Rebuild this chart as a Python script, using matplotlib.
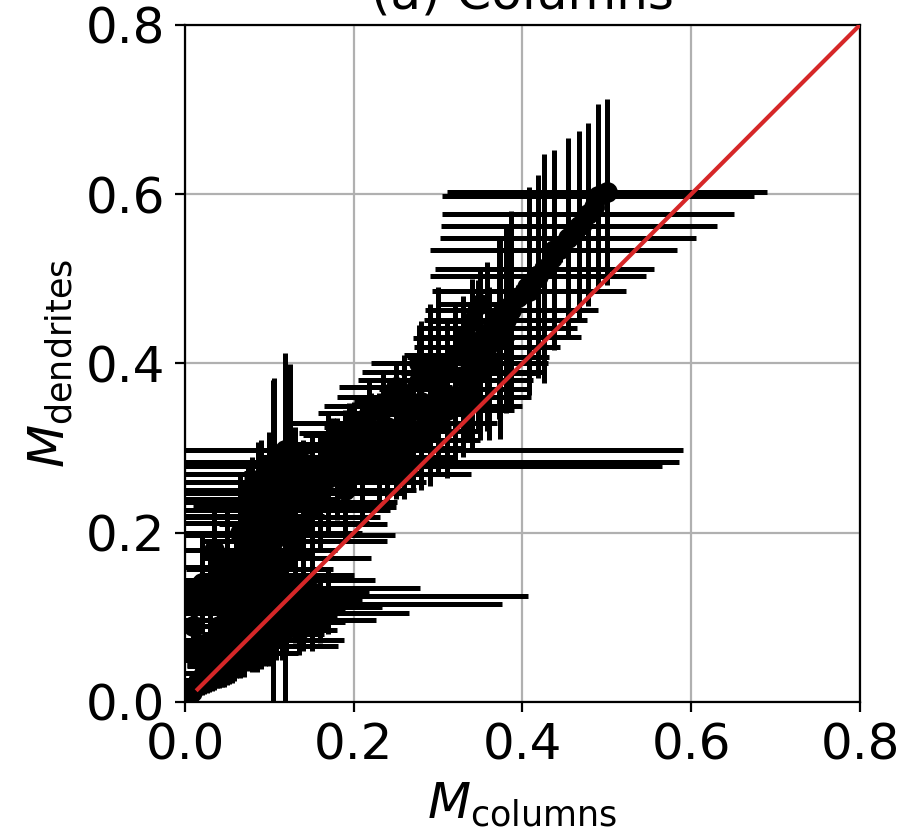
import numpy as np
import matplotlib.pyplot as plt

# M_columns, M_dendrites and their errors
m_col = [0.004, 0.010, 0.016, 0.022, 0.028, 0.034, 0.040, 0.046, 0.052, 0.058,
         0.060, 0.065, 0.070, 0.075, 0.080, 0.085, 0.070, 0.075, 0.080, 0.088,
         0.085, 0.104, 0.119, 0.090, 0.095, 0.100, 0.105, 0.110, 0.087, 0.120,
         0.125, 0.100, 0.125, 0.105, 0.118, 0.131,
         0.175, 0.195, 0.200, 0.218, 0.235, 0.250, 0.260, 0.277, 0.280, 0.290, 0.300,
         0.333, 0.338, 0.347, 0.358, 0.373, 0.372, 0.380, 0.387, 0.408, 0.418,
         0.426, 0.437, 0.454, 0.467, 0.478, 0.490, 0.500]
m_den = [0.006, 0.016, 0.025, 0.034, 0.044, 0.054, 0.062, 0.058, 0.066, 0.073,
         0.090, 0.097, 0.105, 0.112, 0.116, 0.125, 0.131, 0.135, 0.144, 0.157,
         0.174, 0.190, 0.200, 0.197, 0.212, 0.219, 0.227, 0.236, 0.247, 0.251,
         0.260, 0.269, 0.279, 0.283, 0.298, 0.290,
         0.305, 0.318, 0.330, 0.341, 0.350, 0.372, 0.360, 0.400, 0.380, 0.390, 0.400,
         0.381, 0.389, 0.408, 0.420, 0.431, 0.442, 0.451, 0.463, 0.486, 0.503,
         0.512, 0.534, 0.548, 0.562, 0.576, 0.598, 0.603]
err_col = [0.006, 0.012, 0.018, 0.030, 0.025, 0.045, 0.040, 0.088, 0.129, 0.131,
           0.080, 0.162, 0.195, 0.159, 0.296, 0.321, 0.148, 0.203, 0.145, 0.087,
           0.065, 0.010, 0.012, 0.159, 0.123, 0.131, 0.138, 0.141, 0.175, 0.154,
           0.161, 0.239, 0.440, 0.480, 0.472, 0.030,
           0.050, 0.060, 0.073, 0.060, 0.070, 0.067, 0.080, 0.020, 0.075, 0.080, 0.080,
           0.080, 0.082, 0.084, 0.086, 0.096, 0.093, 0.097, 0.102, 0.115, 0.128,
           0.130, 0.146, 0.152, 0.164, 0.173, 0.185, 0.190]
err_den = [0.004, 0.011, 0.017, 0.024, 0.032, 0.040, 0.045, 0.040, 0.045, 0.048,
           0.062, 0.066, 0.070, 0.075, 0.078, 0.082, 0.085, 0.088, 0.094, 0.100,
           0.100, 0.190, 0.200, 0.080, 0.070, 0.070, 0.070, 0.065, 0.060, 0.060,
           0.060, 0.050, 0.120, 0.100, 0.114, 0.035,
           0.030, 0.035, 0.025, 0.040, 0.040, 0.028, 0.050, 0.046, 0.070, 0.080, 0.090,
           0.070, 0.080, 0.090, 0.100, 0.120, 0.108, 0.110, 0.117, 0.123, 0.120,
           0.135, 0.118, 0.118, 0.113, 0.108, 0.108, 0.110]

# the dense part of the cloud, sorted by M_dendrites
dense_col = [0.035, 0.020, 0.050, 0.030, 0.065, 0.080, 0.040, 0.120, 0.090, 0.100,
             0.140, 0.050, 0.160, 0.030, 0.130, 0.150, 0.060, 0.110, 0.050, 0.120,
             0.070, 0.130, 0.065, 0.140, 0.075, 0.150, 0.080, 0.160, 0.090, 0.170,
             0.180, 0.190, 0.210, 0.230, 0.250, 0.220, 0.270, 0.240, 0.290, 0.260,
             0.310, 0.280, 0.320, 0.300, 0.340, 0.350, 0.310, 0.360, 0.320, 0.330,
             0.340, 0.350]
dense_den = [0.040, 0.050, 0.055, 0.070, 0.070, 0.085, 0.090, 0.090, 0.095, 0.100,
             0.100, 0.110, 0.110, 0.120, 0.120, 0.130, 0.140, 0.150, 0.160, 0.170,
             0.180, 0.190, 0.200, 0.210, 0.220, 0.230, 0.240, 0.250, 0.260, 0.265,
             0.275, 0.285, 0.290, 0.300, 0.310, 0.315, 0.320, 0.325, 0.330, 0.340,
             0.345, 0.355, 0.360, 0.370, 0.370, 0.390, 0.390, 0.400, 0.410, 0.430,
             0.450, 0.470]
dense_err_col = [0.020, 0.030, 0.030, 0.040, 0.035, 0.040, 0.060, 0.050, 0.040, 0.050,
                 0.040, 0.070, 0.030, 0.050, 0.060, 0.050, 0.080, 0.090, 0.060, 0.100,
                 0.090, 0.110, 0.070, 0.100, 0.090, 0.100, 0.100, 0.100, 0.120, 0.100,
                 0.090, 0.100, 0.090, 0.100, 0.090, 0.080, 0.080, 0.075, 0.070, 0.070,
                 0.080, 0.080, 0.090, 0.070, 0.070, 0.075, 0.060, 0.070, 0.060, 0.060,
                 0.050, 0.050]
dense_err_den = [0.025, 0.030, 0.035, 0.040, 0.042, 0.050, 0.050, 0.035, 0.056, 0.058,
                 0.040, 0.060, 0.040, 0.060, 0.050, 0.050, 0.070, 0.080, 0.070, 0.090,
                 0.080, 0.090, 0.070, 0.080, 0.060, 0.080, 0.050, 0.070, 0.050, 0.070,
                 0.060, 0.060, 0.060, 0.065, 0.070, 0.050, 0.070, 0.050, 0.075, 0.050,
                 0.080, 0.050, 0.080, 0.060, 0.070, 0.080, 0.060, 0.090, 0.060, 0.050,
                 0.050, 0.040]

# more points in the lower-left wedge
wedge_col = [0.008, 0.014, 0.020, 0.026, 0.032, 0.038, 0.044, 0.056, 0.070, 0.085,
             0.095, 0.108, 0.115, 0.135, 0.150, 0.170, 0.015, 0.010, 0.020, 0.040,
             0.035, 0.090, 0.100, 0.110, 0.120, 0.140, 0.150, 0.170, 0.200, 0.190,
             0.210, 0.240, 0.260, 0.280, 0.300, 0.330]
wedge_den = [0.012, 0.020, 0.026, 0.034, 0.042, 0.048, 0.056, 0.066, 0.080, 0.092,
             0.105, 0.120, 0.080, 0.085, 0.095, 0.120, 0.060, 0.090, 0.140, 0.130,
             0.180, 0.140, 0.180, 0.200, 0.230, 0.250, 0.270, 0.290, 0.300, 0.250,
             0.270, 0.290, 0.300, 0.310, 0.330, 0.350]
wedge_err_col = [0.008, 0.014, 0.020, 0.025, 0.030, 0.035, 0.040, 0.045, 0.050, 0.055,
                 0.060, 0.070, 0.050, 0.045, 0.040, 0.040, 0.020, 0.015, 0.025, 0.060,
                 0.050, 0.060, 0.080, 0.100, 0.110, 0.090, 0.080, 0.080, 0.090, 0.060,
                 0.070, 0.080, 0.070, 0.070, 0.070, 0.070]
wedge_err_den = [0.008, 0.014, 0.018, 0.023, 0.029, 0.032, 0.038, 0.043, 0.050, 0.056,
                 0.063, 0.070, 0.030, 0.030, 0.035, 0.040, 0.040, 0.050, 0.060, 0.050,
                 0.060, 0.060, 0.060, 0.070, 0.060, 0.060, 0.050, 0.050, 0.050, 0.060,
                 0.060, 0.060, 0.060, 0.060, 0.060, 0.060]

# the upper band of markers
band_col = [0.345, 0.355, 0.365, 0.375, 0.385, 0.395, 0.405, 0.415, 0.425, 0.435,
            0.445, 0.460, 0.470, 0.485]
band_den = [0.420, 0.432, 0.445, 0.458, 0.468, 0.478, 0.490, 0.500, 0.512, 0.524,
            0.535, 0.555, 0.565, 0.585]
band_err_col = [0.012, 0.012, 0.012, 0.012, 0.012, 0.012, 0.012, 0.012, 0.012, 0.012,
                0.012, 0.012, 0.012, 0.012]
band_err_den = [0.015, 0.015, 0.015, 0.015, 0.015, 0.015, 0.015, 0.015, 0.015, 0.015,
                0.015, 0.015, 0.015, 0.015]

one_to_one = [0.015, 0.8]

fig = plt.figure(figsize=(4.54, 4.19), dpi=200)
ax = fig.add_axes([0.2037, 0.1623, 0.7434, 0.808])

style = dict(fmt='-o', color='k', ms=6.5, lw=1.8, elinewidth=1.8, capsize=0, zorder=2)
ax.errorbar(wedge_col, wedge_den, xerr=wedge_err_col, yerr=wedge_err_den, **style)
ax.errorbar(dense_col, dense_den, xerr=dense_err_col, yerr=dense_err_den, **style)
ax.errorbar(band_col, band_den, xerr=band_err_col, yerr=band_err_den, **style)
ax.errorbar(m_col, m_den, xerr=err_col, yerr=err_den, **style)
ax.plot(one_to_one, one_to_one, color='tab:red', lw=1.5, zorder=3)

ax.set_xlim(0, 0.8)
ax.set_ylim(0, 0.8)
ax.set_xticks([0, 0.2, 0.4, 0.6, 0.8])
ax.set_yticks([0, 0.2, 0.4, 0.6, 0.8])
ax.tick_params(labelsize=18)
ax.grid(True, zorder=0)
ax.set_axisbelow(True)
ax.set_xlabel(r'$M_{\mathrm{columns}}$', fontsize=18)
ax.set_ylabel(r'$M_{\mathrm{dendrites}}$', fontsize=18)
ax.set_title('(a) Columns', fontsize=18)

plt.savefig('out.png', dpi=200)
